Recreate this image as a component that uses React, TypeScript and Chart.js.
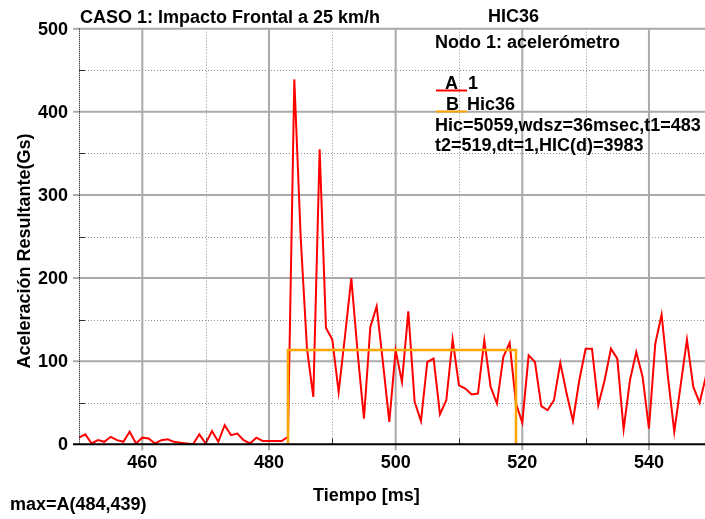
import React, { useEffect, useRef } from "react";
import { Chart, registerables } from "chart.js";

Chart.register(...registerables);

// ---- data ----
const times = [
  450, 451, 452, 453, 454, 455, 456, 457, 458, 459,
  460, 461, 462, 463, 464, 465, 466, 467, 468, 469,
  470, 471, 472, 473, 474, 475, 476, 477, 478, 479,
  480, 481, 482, 483, 484, 485, 486, 487, 488, 489,
  490, 491, 492, 493, 494, 495, 496, 497, 498, 499,
  500, 501, 502, 503, 504, 505, 506, 507, 508, 509,
  510, 511, 512, 513, 514, 515, 516, 517, 518, 519,
  520, 521, 522, 523, 524, 525, 526, 527, 528, 529,
  530, 531, 532, 533, 534, 535, 536, 537, 538, 539,
  540, 541, 542, 543, 544, 545, 546, 547, 548, 549,
];
const accel = [
  8, 12, 1, 5, 3, 9, 5, 3, 15, 1,
  8, 7, 1, 5, 6, 3, 2, 1, 0, 12,
  1, 16, 3, 23, 11, 13, 5, 1, 8, 4,
  4, 4, 4, 9, 439, 250, 115, 57, 355, 140,
  126, 63, 130, 200, 110, 31, 141, 166, 98, 27,
  113, 75, 160, 51, 28, 99, 103, 36, 53, 126,
  71, 67, 60, 61, 125, 69, 49, 105, 122, 49,
  26, 107, 99, 46, 41, 53, 98, 61, 28, 77,
  115, 115, 47, 77, 115, 103, 18, 77, 111, 81,
  19, 121, 156, 81, 15, 71, 126, 69, 50, 82,
];
const hicTimes = [483, 483, 519, 519];
const hicValues = [0, 113.5, 113.5, 0];

const xTickLabels = [460, 480, 500, 520, 540];
const xMinorLines = [470, 490, 510, 530];
const yTickLabels = [0, 100, 200, 300, 400, 500];
const yMinorLines = [50, 150, 250, 350, 450];

const X_MIN = 450;
const X_MAX = 548.85;
const Y_MIN = 0;
const Y_MAX = 500;

const FONT = 'bold 18px "Liberation Sans", Arial, sans-serif';

const overlayPlugin = {
  id: "overlay",
  beforeDatasetsDraw(chart: any) {
    const { ctx, chartArea: a, scales } = chart;
    const x = scales.x;
    const y = scales.y;
    ctx.save();
    // minor dotted lines
    ctx.strokeStyle = "#8c8c8c";
    ctx.lineWidth = 1;
    ctx.setLineDash([1, 2]);
    for (const v of xMinorLines) {
      const px = Math.round(x.getPixelForValue(v)) + 0.5;
      ctx.beginPath();
      ctx.moveTo(px, a.top);
      ctx.lineTo(px, a.bottom);
      ctx.stroke();
    }
    for (const v of yMinorLines) {
      const py = Math.round(y.getPixelForValue(v)) + 0.5;
      ctx.beginPath();
      ctx.moveTo(a.left, py);
      ctx.lineTo(a.right, py);
      ctx.stroke();
    }
    // major solid lines
    ctx.setLineDash([]);
    ctx.strokeStyle = "#aaaaaa";
    ctx.lineWidth = 2;
    for (const v of xTickLabels) {
      const px = x.getPixelForValue(v);
      ctx.beginPath();
      ctx.moveTo(px, a.top);
      ctx.lineTo(px, a.bottom + 6);
      ctx.stroke();
    }
    for (const v of yTickLabels) {
      if (v === 0) continue;
      const py = y.getPixelForValue(v);
      ctx.beginPath();
      ctx.moveTo(a.left - 6, py);
      ctx.lineTo(a.right, py);
      ctx.stroke();
    }
    ctx.restore();
  },
  afterDatasetsDraw(chart: any) {
    const { ctx, chartArea: a, scales } = chart;
    const x = scales.x;
    const y = scales.y;
    ctx.save();
    // minor ticks inward
    ctx.strokeStyle = "#333";
    ctx.lineWidth = 1;
    for (const v of xMinorLines) {
      const px = Math.round(x.getPixelForValue(v)) + 0.5;
      ctx.beginPath();
      ctx.moveTo(px, a.bottom - 6);
      ctx.lineTo(px, a.bottom);
      ctx.stroke();
    }
    for (const v of yMinorLines) {
      const py = Math.round(y.getPixelForValue(v)) + 0.5;
      ctx.beginPath();
      ctx.moveTo(a.left, py);
      ctx.lineTo(a.left + 6, py);
      ctx.stroke();
    }
    // left axis dotted black
    ctx.setLineDash([1, 1]);
    ctx.strokeStyle = "#000";
    ctx.beginPath();
    ctx.moveTo(Math.round(a.left) + 0.5, a.top);
    ctx.lineTo(Math.round(a.left) + 0.5, a.bottom);
    ctx.stroke();
    ctx.setLineDash([]);
    // bottom axis solid
    ctx.lineWidth = 2;
    ctx.beginPath();
    ctx.moveTo(a.left - 6, a.bottom);
    ctx.lineTo(a.right, a.bottom);
    ctx.stroke();
    ctx.restore();
  },
  afterDraw(chart: any) {
    const { ctx, scales } = chart;
    const x = scales.x;
    const y = scales.y;
    ctx.save();
    ctx.fillStyle = "#000";
    ctx.font = FONT;
    ctx.textBaseline = "alphabetic";
    ctx.textAlign = "left";
    ctx.fillText("CASO 1: Impacto Frontal a 25 km/h", 80, 23);
    ctx.fillText("HIC36", 488, 22);
    ctx.fillText("Nodo 1: acelerómetro", 435, 48);
    ctx.fillText("A", 445, 89);
    ctx.fillText("1", 468, 89);
    ctx.fillText("B", 446, 110);
    ctx.fillText("Hic36", 467, 110);
    ctx.fillText("Hic=5059,wdsz=36msec,t1=483", 435, 130.5);
    ctx.fillText("t2=519,dt=1,HIC(d)=3983", 435, 151);
    ctx.fillText("Tiempo [ms]", 313, 501);
    ctx.fillText("max=A(484,439)", 10, 510);
    // legend swatches
    ctx.lineWidth = 2;
    ctx.strokeStyle = "#ff0000";
    ctx.beginPath();
    ctx.moveTo(436, 90.5);
    ctx.lineTo(467, 90.5);
    ctx.stroke();
    ctx.strokeStyle = "#ffa500";
    ctx.beginPath();
    ctx.moveTo(436, 111.5);
    ctx.lineTo(467, 111.5);
    ctx.stroke();
    // x tick labels
    ctx.textAlign = "center";
    for (const v of xTickLabels) {
      ctx.fillText(String(v), x.getPixelForValue(v), 468);
    }
    // y tick labels
    ctx.textAlign = "right";
    ctx.textBaseline = "middle";
    for (const v of yTickLabels) {
      ctx.fillText(String(v), 68, y.getPixelForValue(v) + 1);
    }
    // y title
    ctx.translate(25, 251);
    ctx.rotate(-Math.PI / 2);
    ctx.textAlign = "center";
    ctx.fillText("Aceleración Resultante(Gs)", 0, 0);
    ctx.restore();
  },
};

export default function App() {
  const ref = useRef<HTMLCanvasElement | null>(null);
  useEffect(() => {
    document.body.style.margin = "0";
    const canvas = ref.current;
    if (!canvas) return;
    const chart = new Chart(canvas, {
      type: "scatter",
      data: {
        datasets: [
          {
            label: "1",
            data: times.map((t, i) => ({ x: t, y: accel[i] })),
            showLine: true,
            borderColor: "#ff0000",
            borderWidth: 2,
            pointRadius: 0,
            tension: 0,
            order: 1,
          },
          {
            label: "Hic36",
            data: hicTimes.map((t, i) => ({ x: t, y: hicValues[i] })),
            showLine: true,
            borderColor: "#ffa500",
            borderWidth: 2.5,
            pointRadius: 0,
            tension: 0,
            order: 0,
          },
        ],
      },
      options: {
        animation: false,
        responsive: false,
        maintainAspectRatio: false,
        layout: { padding: { left: 79, right: 0, top: 28.7, bottom: 74.7 } },
        plugins: { legend: { display: false }, tooltip: { enabled: false }, title: { display: false } },
        scales: {
          x: { type: "linear", min: X_MIN, max: X_MAX, display: false },
          y: { type: "linear", min: Y_MIN, max: Y_MAX, display: false },
        },
      },
      plugins: [overlayPlugin],
    });
    return () => chart.destroy();
  }, []);
  return (
    <div style={{ width: 705, height: 519, background: "#fff" }}>
      <canvas ref={ref} width={705} height={519} style={{ display: "block" }} />
    </div>
  );
}
